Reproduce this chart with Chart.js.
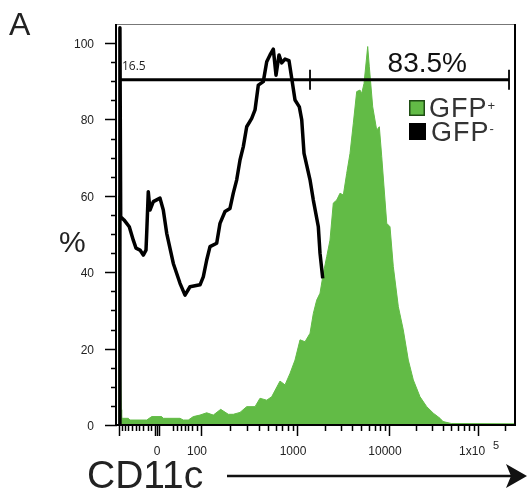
<!DOCTYPE html>
<html>
<head>
<meta charset="utf-8">
<script src="https://cdn.jsdelivr.net/npm/chart.js@4.4.1/dist/chart.umd.min.js"></script>
<style>
  html, body { margin: 0; padding: 0; background: #fff; }
</style>
</head>
<body>
<canvas id="cd11c" width="528" height="494"></canvas>
<script>
// CD11c histogram, x in display channels (0-1024), y in % of max
var gfpNegChannel = [7, 7.5, 9.5, 18.0, 31.6, 41.9, 48.9, 59.2, 67.7, 74.6, 76.4, 80.5, 84.9,
	93.4, 110.6, 119.1, 127.9, 144.9, 162.1, 175.0, 187.8, 213.6, 222.0,
	230.8, 239.3, 256.5, 265.0, 277.9, 290.7, 299.2, 308.0, 316.5, 325.0,
	333.7, 346.6, 355.1, 363.6, 376.4, 385.2, 393.7, 402.2, 409.1, 416.8,
	423.8, 432.3, 442.6, 449.5, 458.0, 469.1, 475.3, 481.2, 496.6, 505.1,
	518.0, 522.3, 529.3];
var gfpNegPct = [0, 104, 54.5, 53.7, 51.9, 48.4, 46.3, 45.8, 44.5, 45.8, 50.2, 61.1, 56.3,
	58.5, 59.4, 56.3, 50.2, 42.3, 37.1, 34.0, 36.2, 36.7, 38.8,
	43.2, 46.7, 47.6, 52.8, 55.9, 56.7, 60.7, 64.2, 69.4, 72.9,
	78.1, 80.3, 82.5, 89.0, 89.9, 95.1, 96.9, 98.4, 91.6, 96.9,
	94.8, 95.8, 95.4, 90.8, 85.1, 83.3, 79.9, 71.1, 64.2, 58.9,
	51.9, 45.0, 38.4];

var gfpPosChannel = [4, 5, 9, 11, 12, 29.2, 33.4, 76.4, 89.3, 115,
	119.1, 162.1, 170.6, 183.5, 196.3, 213.6, 230.8, 247.8, 266.8, 286.4,
	299.2, 316.5, 333.7, 355.1, 367.9, 385.2, 398, 419.4, 432.3, 445.1,
	458, 470.9, 483.7, 496.6, 505.1, 513.8, 522.3, 530.8, 539.6, 548,
	556.5, 565.3, 573.8, 582.3, 591, 599.5, 608, 616.7, 625.2, 629.6,
	635.5, 645, 649.2, 657.9, 668.2, 674.9, 681.1, 694, 702.4, 710.9,
	723.8, 736.6, 749.5, 762.4, 779.6, 796.9, 813.8, 831.1, 838.8, 860, 1024];
var gfpPosPct = [0, 60, 18, 4, 1.75, 1.75, 1.3, 1.3, 2.2, 2.2,
	1.75, 1.75, 1.3, 1.3, 2.2, 2.6, 3.2, 2.6, 4.1, 2.8,
	2.8, 3.3, 4.8, 4.8, 7.0, 6.5, 7.4, 11.5, 10.5, 13.5,
	17, 22.3, 21.8, 24.0, 29.2, 32.7, 34.5, 39.7, 44.1, 48.4,
	58.1, 58.9, 60.7, 60.2, 65.9, 71.1, 79.0, 87.3, 87.7, 86.8,
	89.4, 99.1, 93.8, 83.3, 77.2, 78.1, 70.3, 52.8, 51.9, 41.5,
	31.0, 24.9, 17.0, 11.8, 7.4, 4.8, 3.1, 1.75, 0.9, 0.4, 0.3];

// axis ticks
var xTickLabels = ["0", "100", "1000", "10000", "1x10"];
var xTickChannels = [102.9, 216.1, 463.1, 699.9, 929.0];
var xLowMajorChannels = [5.1, 97.8, 106.8];
var xLowMinorChannels = [12.9, 20.6, 28.3, 38.6, 48.9, 56.6, 66.9, 79.7, 87.5,
	144.1, 154.4, 164.7, 174.9, 182.7, 193.0, 205.8];
var yTicks = [0, 20, 40, 60, 80, 100];

// gate
var gateLevel = 90.4;
var gateStart = 7.7, gateSplit = 496.6, gateEnd = 1008.6;
var gateLeftLabel = "16.5", gateRightLabel = "83.5%";

var green = "rgb(98,187,70)";

function decadeMinors() {
	var out = [];
	for (var i = 1; i < xTickChannels.length; i++) {
		var a = xTickChannels[i], b = xTickChannels[i + 1];
		if (b === undefined) b = a + (a - xTickChannels[i - 1]);
		for (var k = 2; k <= 9; k++) {
			var c = a + Math.log10(k) * (b - a);
			if (c <= 1024) out.push(c);
		}
	}
	return out;
}

var decorations = {
	id: 'decorations',
	afterDatasetsDraw: function (chart) {
		var ctx = chart.ctx, area = chart.chartArea;
		var x = chart.scales.x, y = chart.scales.y;
		ctx.save();

		// frame
		ctx.strokeStyle = "#777";
		ctx.lineWidth = 1;
		ctx.beginPath();
		ctx.moveTo(area.left, area.top + 0.5);
		ctx.lineTo(area.right, area.top + 0.5);
		ctx.stroke();
		ctx.strokeStyle = "#000";
		ctx.lineWidth = 2;
		ctx.beginPath();
		ctx.moveTo(area.left - 1, area.top);
		ctx.lineTo(area.left - 1, area.bottom);
		ctx.lineTo(area.right, area.bottom);
		ctx.lineTo(area.right, area.top);
		ctx.stroke();

		// y ticks
		ctx.lineWidth = 1.5;
		ctx.fillStyle = "#222";
		ctx.font = "12px 'Liberation Sans', Arial, sans-serif";
		ctx.textAlign = "right";
		ctx.textBaseline = "middle";
		for (var v = 0; v <= 100; v += 5) {
			var py = Math.round(y.getPixelForValue(v)) + 0.5;
			var major = yTicks.indexOf(v) >= 0;
			ctx.beginPath();
			ctx.moveTo(area.left - (major ? 12 : 6), py);
			ctx.lineTo(area.left, py);
			ctx.stroke();
			if (major) ctx.fillText(String(v), area.left - 23, py + 1);
		}

		// x ticks
		var tick = function (ch, len) {
			var px = Math.round(x.getPixelForValue(ch)) + 0.5;
			ctx.beginPath();
			ctx.moveTo(px, area.bottom);
			ctx.lineTo(px, area.bottom + len);
			ctx.stroke();
		};
		ctx.lineWidth = 1.5;
		xTickChannels.forEach(function (c) { tick(c, 11); });
		xLowMajorChannels.forEach(function (c) { tick(c, 11); });
		xLowMinorChannels.forEach(function (c) { tick(c, 6); });
		decadeMinors().forEach(function (c) { tick(c, 6); });

		ctx.textAlign = "center";
		xTickLabels.forEach(function (lab, i) {
			var px = x.getPixelForValue(xTickChannels[i]) - (i === 0 ? 0 : 4);
			if (i === xTickLabels.length - 1) {
				ctx.textAlign = "right";
				ctx.fillText(lab, px + 11, 452);
				ctx.textAlign = "left";
				ctx.font = "11px 'Liberation Sans', Arial, sans-serif";
				ctx.fillText("5", px + 19, 446);
				ctx.font = "12px 'Liberation Sans', Arial, sans-serif";
				ctx.textAlign = "center";
			} else {
				ctx.fillText(lab, px, 452);
			}
		});

		// gate
		var gy = y.getPixelForValue(gateLevel);
		var gx0 = x.getPixelForValue(gateStart);
		var gx1 = x.getPixelForValue(gateSplit);
		var gx2 = x.getPixelForValue(gateEnd);
		ctx.strokeStyle = "#000";
		ctx.lineWidth = 3;
		ctx.beginPath();
		ctx.moveTo(gx0, gy);
		ctx.lineTo(gx2, gy);
		ctx.stroke();
		ctx.lineWidth = 1.8;
		[gx1, gx2].forEach(function (gx) {
			ctx.beginPath();
			ctx.moveTo(gx, gy - 10);
			ctx.lineTo(gx, gy + 10);
			ctx.stroke();
		});
		ctx.fillStyle = "#222";
		ctx.textAlign = "left";
		ctx.textBaseline = "alphabetic";
		ctx.font = "12px 'Open Sans', 'Liberation Sans', sans-serif";
		ctx.fillText(gateLeftLabel, gx0 + 2, gy - 10);
		ctx.font = "28px 'Liberation Sans', Arial, sans-serif";
		ctx.fillStyle = "#111";
		ctx.textAlign = "right";
		ctx.fillText(gateRightLabel, gx2 - 42, gy - 8);

		// legend
		var lx = area.right - 106;
		ctx.fillStyle = green;
		ctx.fillRect(lx, 100, 16, 16);
		ctx.strokeStyle = "#1f4d14";
		ctx.lineWidth = 1.5;
		ctx.strokeRect(lx + 0.75, 100.75, 14.5, 14.5);
		ctx.fillStyle = "#000";
		ctx.fillRect(lx, 123, 17, 17);
		ctx.fillStyle = "#333";
		ctx.textAlign = "left";
		ctx.font = "27px 'Liberation Sans', Arial, sans-serif";
		ctx.letterSpacing = "1px";
		ctx.fillText("GFP", lx + 20, 117);
		var w1 = ctx.measureText("GFP").width;
		ctx.fillText("GFP", lx + 22, 141);
		ctx.letterSpacing = "0px";
		ctx.font = "13px 'Liberation Sans', Arial, sans-serif";
		ctx.fillText("+", lx + 20 + w1, 110);
		ctx.fillText("-", lx + 22 + w1, 133);

		// panel letter, axis titles, arrow
		ctx.fillStyle = "#222";
		ctx.font = "32px 'Liberation Sans', Arial, sans-serif";
		ctx.fillText("A", 9, 35);
		ctx.font = "30px 'Liberation Sans', Arial, sans-serif";
		ctx.fillText("%", 59, 252);
		ctx.font = "39px 'Liberation Sans', Arial, sans-serif";
		ctx.fillText("CD11c", 87, 488);

		ctx.strokeStyle = "#111";
		ctx.lineWidth = 2.5;
		ctx.beginPath();
		ctx.moveTo(227, 476);
		ctx.lineTo(512, 476);
		ctx.stroke();
		ctx.fillStyle = "#111";
		ctx.beginPath();
		ctx.moveTo(527, 476);
		ctx.lineTo(506, 464);
		ctx.lineTo(511, 476);
		ctx.lineTo(506, 488);
		ctx.closePath();
		ctx.fill();

		ctx.restore();
	}
};

function toPoints(xs, ys) {
	var pts = [];
	for (var i = 0; i < xs.length; i++) pts.push({ x: xs[i], y: ys[i] });
	return pts;
}

var ctx = document.getElementById('cd11c').getContext('2d');
var histChart = new Chart(ctx, {
	type: 'line',
	data: {
		datasets: [{
			label: 'GFP-',
			data: toPoints(gfpNegChannel, gfpNegPct),
			borderColor: '#000',
			borderWidth: 3.5,
			borderJoinStyle: 'round',
			fill: false,
			pointRadius: 0,
			order: 0
		}, {
			label: 'GFP+',
			data: toPoints(gfpPosChannel, gfpPosPct),
			borderColor: green,
			backgroundColor: green,
			borderWidth: 1,
			fill: 'origin',
			pointRadius: 0,
			order: 1
		}]
	},
	options: {
		responsive: false,
		animation: false,
		layout: { padding: { left: 117, right: 13, top: 24, bottom: 69 } },
		scales: {
			x: { type: 'linear', min: 0, max: 1024, display: false },
			y: { min: 0, max: 105, display: false }
		},
		plugins: {
			legend: { display: false },
			tooltip: { enabled: false }
		}
	},
	plugins: [decorations]
});
</script>
</body>
</html>
